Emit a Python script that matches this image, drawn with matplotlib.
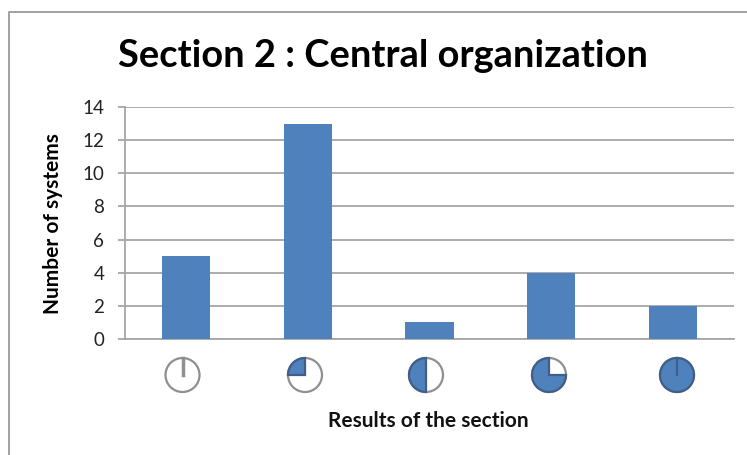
import matplotlib
matplotlib.use("Agg")
import matplotlib.pyplot as plt
from matplotlib.patches import Circle, Wedge

categories = ["0", "1/4", "1/2", "3/4", "1"]
values = [5, 13, 1, 4, 2]
fractions = [0, 0.25, 0.5, 0.75, 1]
yticks = [0, 2, 4, 6, 8, 10, 12, 14]
title = "Section 2 : Central organization"
xlabel = "Results of the section"
ylabel = "Number of systems"

W, H = 747, 455
BLUE = "#4F81BD"
GREY = "#A6A6A6"
plt.rcParams["font.family"] = ["Lato", "DejaVu Sans"]

fig = plt.figure(figsize=(W / 100, H / 100), dpi=100, facecolor="white")

# pixel-coordinate overlay (y down) for frame and icons
ov = fig.add_axes([0, 0, 1, 1], zorder=3)
ov.set_xlim(0, W)
ov.set_ylim(H, 0)
ov.axis("off")
ov.patch.set_alpha(0)
ov.plot([8.5, 8.5, W], [H, 11.5, 11.5], color="#9a9a9a", lw=1.3, solid_capstyle="butt")

left, right, top, bottom = 125, 734, 107, 339
ax = fig.add_axes([left / W, 1 - bottom / H, (right - left) / W, (bottom - top) / H])
ax.bar(range(len(values)), values, width=0.395, color=BLUE, zorder=3)
ax.set_xlim(-0.5, len(values) - 0.5)
ax.set_ylim(0, 14)
ax.set_yticks(yticks)
ax.set_xticks([])
ax.grid(axis="y", color=GREY, lw=1.3, zorder=0)
ax.set_axisbelow(True)
for s in ("top", "right"):
    ax.spines[s].set_visible(False)
for s in ("left", "bottom"):
    ax.spines[s].set_color(GREY)
    ax.spines[s].set_linewidth(1.3)
ax.tick_params(axis="y", length=5, width=1.3, color=GREY, labelsize=13.5, pad=10, labelcolor="#222222")

fig.text(383 / W, 1 - 56 / H, title, ha="center", va="center", fontsize=27.4, fontweight="bold", color="black")
fig.text(428.5 / W, 1 - 421 / H, xlabel, ha="center", va="center", fontsize=15, fontweight="bold", color="#111111")
fig.text(53 / W, 1 - 223.5 / H, ylabel, ha="center", va="center", rotation=90, fontsize=15, fontweight="bold", color="black")

# result icons, one under each bar
icon_x = [182.5, 305, 426, 549, 677]
icon_y = 375
r = 17
EDGE = "#8F8F8F"
DARK = "#3F5F8A"
for cx, f in zip(icon_x, fractions):
    ov.add_patch(Circle((cx, icon_y), r, fc="white", ec=EDGE, lw=1.6))
    if f >= 1:
        ov.add_patch(Circle((cx, icon_y), r, fc=BLUE, ec=DARK, lw=1.6))
        ov.plot([cx, cx], [icon_y - r, icon_y], color=DARK, lw=1.6)
    elif f > 0:
        # y axis points down here: the filled part runs from 12 o'clock anticlockwise on screen
        ov.add_patch(Wedge((cx, icon_y), r, 270 - 360 * f, 270, fc=BLUE, ec=DARK, lw=1.6))
    else:
        ov.plot([cx, cx], [icon_y - r, icon_y], color=EDGE, lw=2.5)

fig.savefig("out.png", dpi=100)
